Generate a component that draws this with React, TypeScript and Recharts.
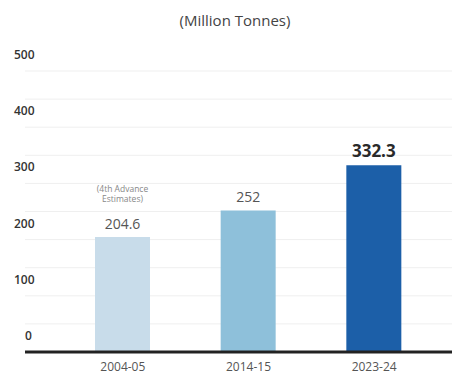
import { BarChart, Bar, XAxis, YAxis, CartesianGrid, Cell, LabelList } from 'recharts';

const years = ['2004-05', '2014-15', '2023-24'];
const production = [204.6, 252, 332.3];
const notes = ['(4th Advance|Estimates)', '', ''];
const yTicks = [0, 50, 100, 150, 200, 250, 300, 350, 400, 450, 500];

const barColors = ['#c8dcea', '#8ec0da', '#1c5fa8'];

const chartData = years.map((year, i) => ({
  year,
  value: production[i],
  note: notes[i],
}));

const font = '"Open Sans", "DejaVu Sans", sans-serif';

const YTick = (props: any) => {
  const { y, payload } = props;
  if (payload.value % 100 !== 0) return null;
  return (
    <text x={payload.value === 0 ? 25 : 14} y={y - 16} dy={4} fontSize={12} fill="#333" fontFamily={font} fontWeight={600}>
      {payload.value}
    </text>
  );
};

const ValueLabel = (props: any) => {
  const { x, y, width, index } = props;
  const cx = x + width / 2;
  const last = index === chartData.length - 1;
  const noteLines = chartData[index].note ? chartData[index].note.split('|') : [];
  return (
    <g fontFamily={font}>
      {noteLines.map((line: string, i: number) => (
        <text key={i} x={cx} y={y - 45 + i * 10} textAnchor="middle" fontSize={8.5} fill="#888">
          {line}
        </text>
      ))}
      <text
        x={cx}
        y={y - 8}
        textAnchor="middle"
        fontSize={last ? 17 : 14}
        fontWeight={last ? 700 : 400}
        fill={last ? '#2a2a2a' : '#555'}
      >
        {production[index]}
      </text>
    </g>
  );
};

export default function App() {
  return (
    <div style={{ position: 'absolute', left: 0, top: 0, width: 452, height: 376, background: '#fff' }}>
      <div
        style={{
          position: 'absolute',
          top: 10,
          left: 0,
          width: 470,
          textAlign: 'center',
          fontFamily: font,
          fontSize: 15,
          color: '#444',
        }}
      >
        (Million Tonnes)
      </div>
      <BarChart width={452} height={376} data={chartData} margin={{ top: 71, right: 0, bottom: 0, left: 0 }}>
        <CartesianGrid vertical={false} stroke="#efefef" />
        <XAxis
          dataKey="year"
          height={24}
          padding={{ left: 35, right: 15 }}
          axisLine={{ stroke: '#222', strokeWidth: 3 }}
          tickLine={false}
          tick={{ fontSize: 12, fill: '#555', fontFamily: font }}
          tickMargin={4}
        />
        <YAxis
          width={25}
          domain={[0, 500]}
          ticks={yTicks}
          interval={0}
          axisLine={false}
          tickLine={false}
          tick={<YTick />}
        />
        <Bar dataKey="value" barSize={55} isAnimationActive={false}>
          {chartData.map((d, i) => (
            <Cell key={d.year} fill={barColors[i]} />
          ))}
          <LabelList dataKey="value" content={<ValueLabel />} />
        </Bar>
      </BarChart>
    </div>
  );
}
